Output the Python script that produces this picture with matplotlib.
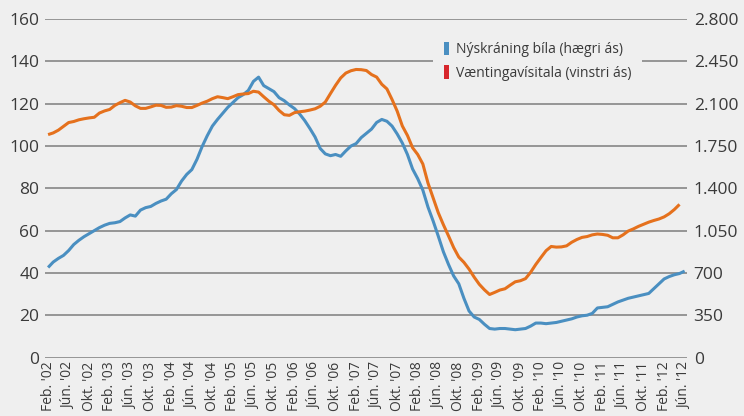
import matplotlib
matplotlib.use("Agg")
import matplotlib.pyplot as plt
from matplotlib.patches import Patch
from matplotlib.ticker import FuncFormatter

# Gögn: mánaðarleg gildi frá feb. 2002
vaentingar = [105.4, 106.2, 107.5, 109.3, 111.1, 111.6, 112.4, 112.9, 113.3, 113.6,
              115.6, 116.6, 117.3, 119.2, 120.5, 121.6, 120.8, 119.0, 117.8, 117.8,
              118.5, 119.3, 119.2, 118.3, 118.4, 119.1, 118.8, 118.2, 118.2, 119.2,
              120.3, 121.2, 122.4, 123.3, 122.9, 122.4, 123.3, 124.3, 124.6, 124.8,
              125.9, 125.5, 123.3, 121.2, 119.5, 116.8, 114.8, 114.5, 115.8, 116.2,
              116.5, 117.0, 117.6, 118.8, 120.8, 124.8, 128.7, 132.2, 134.5, 135.6,
              136.2, 136.1, 135.7, 133.8, 132.6, 129.2, 127.0, 122.0, 116.5, 109.5,
              105.0, 99.2, 96.0, 91.5, 82.5, 75.5, 68.5, 62.8, 57.5, 52.0,
              47.5, 45.0, 41.8, 38.0, 34.6, 32.0, 29.8, 30.8, 31.9, 32.5,
              34.2, 35.8, 36.3, 37.3, 40.3, 44.0, 47.3, 50.5, 52.5, 52.2,
              52.3, 52.8, 54.5, 55.8, 56.8, 57.2, 58.0, 58.4, 58.2, 57.8,
              56.6, 56.6, 58.0, 59.8, 60.8, 62.0, 63.0, 64.0, 64.8, 65.5,
              66.5, 68.0, 70.0, 72.4]

nyskraning = [745, 790, 820, 845, 885, 935, 970, 1000, 1025, 1050,
              1075, 1095, 1110, 1115, 1125, 1155, 1180, 1170, 1220, 1240,
              1250, 1275, 1295, 1310, 1355, 1390, 1460, 1515, 1555, 1640,
              1745, 1835, 1915, 1970, 2020, 2070, 2110, 2150, 2175, 2210,
              2285, 2320, 2250, 2225, 2200, 2150, 2125, 2090, 2060, 2015,
              1960, 1895, 1825, 1730, 1685, 1670, 1680, 1665, 1710, 1750,
              1770, 1820, 1855, 1890, 1945, 1970, 1955, 1915, 1850, 1775,
              1680, 1560, 1480, 1385, 1245, 1130, 1005, 875, 770, 675,
              610, 490, 385, 335, 315, 275, 240, 235, 240, 240,
              235, 230, 235, 240, 260, 285, 285, 280, 285, 290,
              300, 310, 320, 335, 345, 350, 365, 410, 415, 420,
              440, 460, 475, 490, 500, 510, 520, 530, 570, 610,
              650, 670, 685, 695, 715]

x_merki = ["Feb. '02", "Jún. '02", "Okt. '02", "Feb. '03", "Jún. '03", "Okt. '03",
           "Feb. '04", "Jún. '04", "Okt. '04", "Feb. '05", "Jún. '05", "Okt. '05",
           "Feb. '06", "Jún. '06", "Okt. '06", "Feb. '07", "Jún. '07", "Okt. '07",
           "Feb. '08", "Jún. '08", "Okt. '08", "Feb. '09", "Jún. '09", "Okt. '09",
           "Feb. '10", "Jún. '10", "Okt. '10", "Feb. '11", "Jún. '11", "Okt. '11",
           "Feb. '12", "Jún. '12"]

vinstri_ticks = [0, 20, 40, 60, 80, 100, 120, 140, 160]
haegri_ticks = [0, 350, 700, 1050, 1400, 1750, 2100, 2450, 2800]

bg = "#efefef"
txt = "#3a3a3a"
appelsinu = "#e5711d"
blar = "#4a8fc1"
raudur = "#d7262c"

plt.rcParams['font.family'] = ['Open Sans', 'DejaVu Sans']

fig = plt.figure(figsize=(7.44, 4.16), dpi=100, facecolor=bg)
# ax2 = hægri ás (neðst), ax = vinstri ás ofan á
ax2 = fig.add_axes([0.0605, 0.1406, 0.8625, 0.8134])
ax = ax2.twinx()
ax.set_zorder(ax2.get_zorder() + 1)
ax.patch.set_visible(False)
ax2.set_facecolor(bg)

man = list(range(len(nyskraning)))
ax2.plot(man, nyskraning, color=blar, lw=2.2, solid_capstyle='butt')
ax.plot(man[:len(vaentingar)], vaentingar, color=appelsinu, lw=2.2, solid_capstyle='butt')

ax2.yaxis.tick_right()
ax.yaxis.tick_left()

ax2.set_ylim(0, 2800)
ax2.set_yticks(haegri_ticks)
ax2.yaxis.set_major_formatter(FuncFormatter(lambda v, p: f"{int(v):,}".replace(",", ".")))
ax.set_ylim(0, 160)
ax.set_yticks(vinstri_ticks)

ax2.set_xlim(-0.6, 124.4)
ax2.set_xticks(range(0, 125, 4))
ax2.set_xticklabels(x_merki, rotation=90, fontsize=10, color=txt)

ax2.yaxis.grid(True, color="#8e8e8e", lw=1.3)
ax2.set_axisbelow(True)

for a in (ax, ax2):
    for s in a.spines.values():
        s.set_visible(False)
    a.tick_params(length=0, colors=txt)
ax.tick_params(axis='y', labelsize=12.5, pad=4, labelleft=True, labelright=False)
ax2.tick_params(axis='y', labelsize=12.5, pad=5, labelright=True, labelleft=False)
ax2.tick_params(axis='x', pad=3)

handles = [Patch(facecolor=blar, edgecolor='none', label="Nýskráning bíla (hægri ás)"),
           Patch(facecolor=raudur, edgecolor='none', label="Væntingavísitala (vinstri ás)")]
leg = ax.legend(handles=handles, loc='upper left', bbox_to_anchor=(0.604, 0.966),
                frameon=True, facecolor=bg, edgecolor='none', framealpha=1,
                handlelength=0.35, handleheight=1.1, handletextpad=0.5,
                fontsize=10, labelspacing=0.6, borderpad=0.8, borderaxespad=0)
for t in leg.get_texts():
    t.set_color(txt)

fig.savefig("out.png", dpi=100, facecolor=bg)
